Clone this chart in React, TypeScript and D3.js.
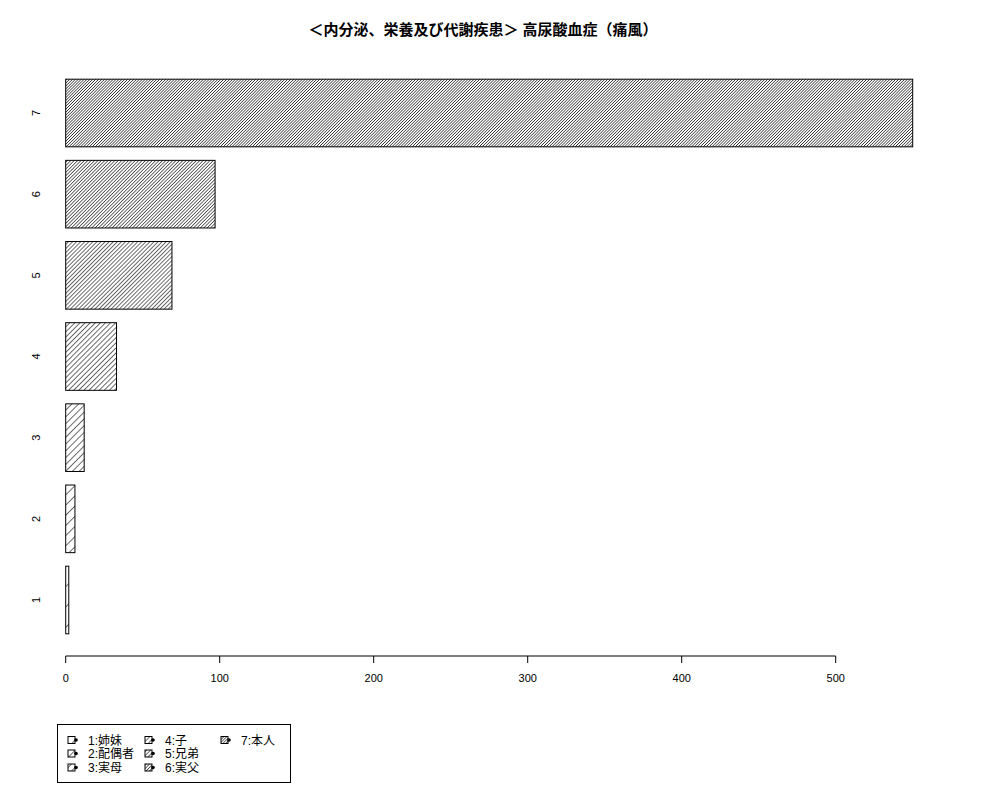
import React from "react";
import * as d3 from "d3";

const categories = ["1", "2", "3", "4", "5", "6", "7"];
const values = [2, 6, 12, 33, 69, 97, 550];
const densities = [5, 10, 15, 20, 25, 30, 35];
const legendLabels = ["1:姉妹", "2:配偶者", "3:実母", "4:子", "5:兄弟", "6:実父", "7:本人"];
const xTicks = [0, 100, 200, 300, 400, 500];
const title = "＜内分泌、栄養及び代謝疾患＞ 高尿酸血症（痛風）";

const W = 1000;
const H = 800;
const FONT = "'Liberation Sans', 'Noto Sans CJK JP', sans-serif";

export default function App() {
  const x = d3.scaleLinear().domain([0, 500]).range([65.7, 835.7]);
  const y = d3.scaleLinear().domain([-0.128, 8.728]).range([656, 57]);
  const barW = 1;
  const space = 0.2;

  const bars = values.map((v, i) => {
    const lo = space + i * (barW + space);
    const hi = lo + barW;
    return { v, i, lo, hi, mid: (lo + hi) / 2 };
  });

  const legendRows = 3;
  const colX = [68, 145, 221];
  const rowY = [740.5, 754, 768];

  return (
    <svg
      width={W}
      height={H}
      style={{ position: "absolute", left: 0, top: 0, background: "#fff" }}
      fontFamily={FONT}
    >
      <defs>
        {densities.map((d, i) => {
          const s = 72 / d;
          return (
            <pattern
              key={i}
              id={`hatch${i}`}
              patternUnits="userSpaceOnUse"
              width={s}
              height={s}
              patternTransform="rotate(45)"
            >
              <line x1={0} y1={-1} x2={0} y2={s + 1} stroke="#000" strokeWidth={1.15} />
            </pattern>
          );
        })}
      </defs>
      <rect x={0} y={0} width={W} height={H} fill="#fff" />
      <text x={483} y={35} textAnchor="middle" fontSize={15} fontWeight="bold">
        {title}
      </text>

      {bars.map((b) => (
        <g key={b.i}>
          <rect
            x={x(0)}
            y={y(b.hi)}
            width={x(b.v) - x(0)}
            height={y(b.lo) - y(b.hi)}
            fill={`url(#hatch${b.i})`}
            stroke="#000"
            strokeWidth={1}
          />
          <text
            transform={`translate(40,${y(b.mid)}) rotate(-90)`}
            textAnchor="middle"
            fontSize={11}
          >
            {categories[b.i]}
          </text>
        </g>
      ))}

      <line x1={x(0)} x2={x(500)} y1={656} y2={656} stroke="#000" strokeWidth={1} />
      {xTicks.map((t) => (
        <g key={t}>
          <line x1={x(t)} x2={x(t)} y1={656} y2={663} stroke="#000" strokeWidth={1} />
          <text x={x(t)} y={682} textAnchor="middle" fontSize={11}>
            {t}
          </text>
        </g>
      ))}

      <rect x={57.5} y={724.5} width={233} height={58} fill="none" stroke="#000" strokeWidth={1} />
      {legendLabels.map((lab, i) => {
        const c = Math.floor(i / legendRows);
        const r = i % legendRows;
        const bx = colX[c];
        const by = rowY[r];
        return (
          <g key={i}>
            <rect
              x={bx}
              y={by - 4}
              width={7}
              height={7}
              fill={`url(#hatch${i})`}
              stroke="#000"
              strokeWidth={1}
            />
            <circle cx={bx + 8} cy={by - 0.5} r={1.8} fill="#000" />
            <text x={bx + 20} y={by + 4} fontSize={12}>
              {lab}
            </text>
          </g>
        );
      })}
    </svg>
  );
}
